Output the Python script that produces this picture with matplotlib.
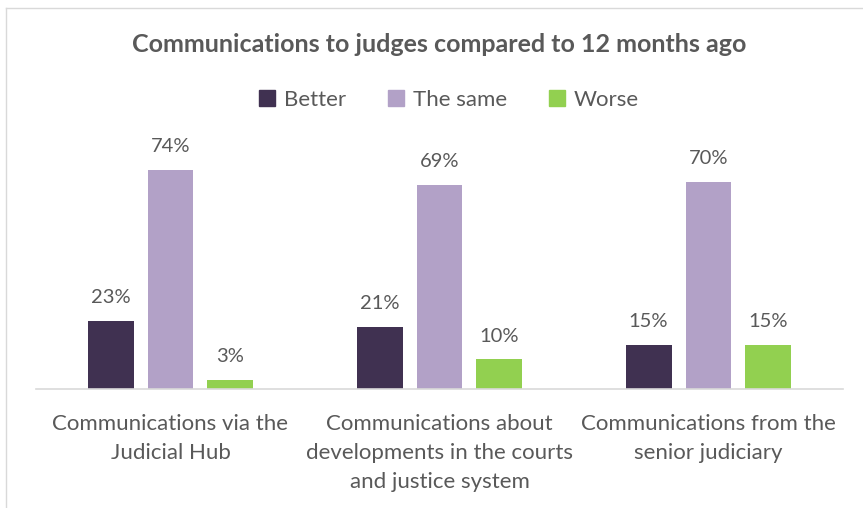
import matplotlib
matplotlib.use("Agg")
import matplotlib.pyplot as plt
from matplotlib.lines import Line2D
from matplotlib.patches import Patch
import numpy as np

categories = ["Communications via the\nJudicial Hub",
              "Communications about\ndevelopments in the courts\nand justice system",
              "Communications from the\nsenior judiciary"]
series_names = ["Better", "The same", "Worse"]
better = [23, 21, 15]
the_same = [74, 69, 70]
worse = [3, 10, 15]
colors = ["#403151", "#B2A1C7", "#92D050"]

plt.rcParams['font.family'] = ['Lato', 'DejaVu Sans']
text_color = "#595959"

fig = plt.figure(figsize=(8.63, 5.08), dpi=100)
W, H = 863, 508
ax = fig.add_axes([36 / W, (H - 389) / H, 807 / W, (389 - 130) / H])

x = np.arange(len(categories))
width = 0.171
offset = 0.223
for i, (vals, name, c) in enumerate(zip([better, the_same, worse], series_names, colors)):
    bars = ax.bar(x + (i - 1) * offset, vals, width, color=c, label=name, zorder=2)
    for b, v in zip(bars, vals):
        ax.text(b.get_x() + b.get_width() / 2, v + 5.0, f"{v}%", ha="center", va="bottom",
                fontsize=14.5, color=text_color)

ax.set_xlim(-0.5, 2.5)
ax.set_ylim(0, 87.5)
ax.set_yticks([])
for s in ["top", "right", "left"]:
    ax.spines[s].set_visible(False)
ax.spines["bottom"].set_color("#D9D9D9")
ax.spines["bottom"].set_linewidth(1.2)
ax.set_xticks(x)
ax.set_xticklabels(categories, fontsize=16, color=text_color, linespacing=1.55)
ax.tick_params(axis="x", length=0, pad=18)

fig.text(439 / W, 1 - 45 / H, "Communications to judges compared to 12 months ago",
         ha="center", va="center", fontsize=18, fontweight="bold", color=text_color)

handles = [Patch(color=c) for c in colors]
fig.legend(handles, series_names, loc="center", bbox_to_anchor=(449 / W, 1 - 100 / H),
           ncol=3, frameon=False, fontsize=16, labelcolor=text_color,
           handlelength=0.7, handleheight=0.7, handletextpad=0.4, columnspacing=1.9)

fig.add_artist(Line2D([5.5 / W, 5.5 / W], [0, 1 - 8 / H], transform=fig.transFigure,
                      color="#D9D9D9", lw=1))
fig.add_artist(Line2D([5.5 / W, 1], [1 - 8 / H, 1 - 8 / H], transform=fig.transFigure,
                      color="#D9D9D9", lw=1))

fig.savefig("out.png", dpi=100)
